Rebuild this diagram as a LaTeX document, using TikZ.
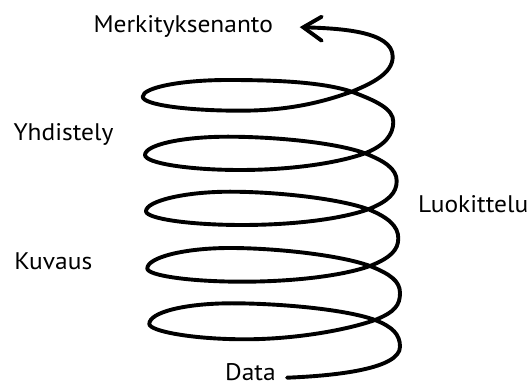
\documentclass[tikz,border=0pt]{standalone}
\usepackage{fontspec}
\setmainfont[FakeStretch=1.06]{PT Sans}
\begin{document}
\begin{tikzpicture}[x=1pt,y=-1pt,
  coil/.style={line width=3.9pt,line cap=round,line join=round},
  stage/.style={inner sep=0pt,anchor=base west,font=\fontsize{24}{28}\selectfont}]
\useasboundingbox (0,0) rectangle (528,387);

% stage labels
\node[stage] (mean)  at (93.3,32.7)  {Merkityksenanto};
\node[stage] (comb)  at (13.3,140.7) {Yhdistely};
\node[stage] (class) at (418,212.2)  {Luokittelu};
\node[stage] (desc)  at (14.2,269.3) {Kuvaus};
\node[stage] (data)  at (225,380.5) {Data};

% key points of the coil
\coordinate (S)   at (287,377.7);
\coordinate (tip) at (303.3,27.3);
\coordinate (aU)  at (321.7,16.7);
\coordinate (aL)  at (321.7,40.7);

\coordinate (C1) at (351.7,91.7);  \coordinate (L1) at (142.7,96.7);
\coordinate (T1) at (228,80);      \coordinate (B1) at (240,110.7);
\coordinate (C2) at (365,153.3);   \coordinate (L2) at (145,155);
\coordinate (T2) at (228,136.7);   \coordinate (B2) at (240,170);
\coordinate (C3) at (368.3,209.3); \coordinate (L3) at (146,211.2);
\coordinate (T3) at (230,191.7);   \coordinate (B3) at (242,225);
\coordinate (C4) at (370,266);     \coordinate (L4) at (147.3,268.5);
\coordinate (T4) at (230,248);     \coordinate (B4) at (242,281.7);
\coordinate (C5) at (375,320);     \coordinate (L5) at (149.3,324);
\coordinate (T5) at (232,303.3);   \coordinate (B5) at (245,339.3);

\coordinate (R0) at (392.7,56.7);
\coordinate (R1) at (393.3,121.7);
\coordinate (R2) at (396.7,181);
\coordinate (R3) at (398.3,238.3);
\coordinate (R4) at (400,293);
\coordinate (R5) at (400,346.7);

% the coil, from Data upwards
\draw[coil] (S) .. controls +(50,-2) and +(0,22) .. (R5)
  .. controls +(0,-12) and +(18,7) .. (C5)
  .. controls +(-30,-11) and +(45,0) .. (T5)
  .. controls +(-46,0) and +(0,-12) .. (L5)
  .. controls +(0,7) and +(-53,0) .. (B5)
  .. controls +(50,0) and +(-28,10) .. (C5)
  .. controls +(20,-8) and +(0,12) .. (R4)
  .. controls +(0,-12) and +(20,8) .. (C4)
  .. controls +(-30,-11) and +(45,0) .. (T4)
  .. controls +(-46,0) and +(0,-11) .. (L4)
  .. controls +(0,7) and +(-52,0) .. (B4)
  .. controls +(50,0) and +(-28,10) .. (C4)
  .. controls +(20,-8) and +(0,12) .. (R3)
  .. controls +(0,-12) and +(20,8) .. (C3)
  .. controls +(-30,-11) and +(45,0) .. (T3)
  .. controls +(-46,0) and +(0,-10) .. (L3)
  .. controls +(0,7.5) and +(-52,0) .. (B3)
  .. controls +(50,0) and +(-28,10) .. (C3)
  .. controls +(20,-8) and +(0,12) .. (R2)
  .. controls +(0,-12) and +(20,8) .. (C2)
  .. controls +(-30,-11) and +(45,0) .. (T2)
  .. controls +(-47,0) and +(0,-10) .. (L2)
  .. controls +(0,8) and +(-52,0) .. (B2)
  .. controls +(50,0) and +(-28,10) .. (C2)
  .. controls +(20,-8) and +(0,13) .. (R1)
  .. controls +(0,-13) and +(24,9) .. (C1)
  .. controls +(-30,-10) and +(45,0) .. (T1)
  .. controls +(-48,0) and +(0,-9) .. (L1)
  .. controls +(0,8) and +(-53,0) .. (B1)
  .. controls +(50,0) and +(-28,10) .. (C1)
  .. controls +(22,-9) and +(0,16) .. (R0)
  .. controls +(0,-26) and +(35,1) .. (tip);

% open arrow head
\draw[coil,line join=miter] (aU) -- (tip) -- (aL);
\end{tikzpicture}
\end{document}
